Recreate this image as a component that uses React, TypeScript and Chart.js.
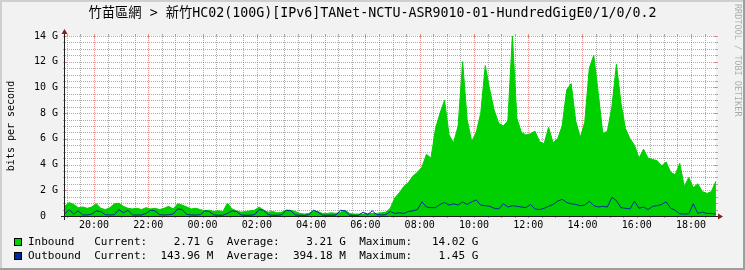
import React, { useEffect, useRef } from 'react';
import { Chart, registerables } from 'chart.js';

Chart.register(...registerables);

const W = 745;
const H = 270;
const MONO = '"DejaVu Sans Mono", "Noto Sans CJK TC", monospace';

const TITLE = '竹苗區網 > 新竹HC02(100G)[IPv6]TANet-NCTU-ASR9010-01-HundredGigE0/1/0/0.2';
const Y_AXIS_TITLE = 'bits per second';
const WATERMARK = 'RRDTOOL / TOBI OETIKER';

// time axis in hours (20 = 20:00, 24 = 00:00 next day, 42 = 18:00)
const START_HOUR = 18 + 55 / 60;
const STEP_HOURS = 10 / 60;
const X_MIN = 18.93;
const X_MAX = 42.92;
const Y_MAX = 14;
const X_LABEL_HOURS = [20, 22, 24, 26, 28, 30, 32, 34, 36, 38, 40, 42];
const Y_LABEL_VALUES = [0, 2, 4, 6, 8, 10, 12, 14];

// Gbit/s, one sample every 10 minutes from 18:55
const inboundGbps = [
  0.75, 1.05, 0.9, 0.65, 0.7, 0.6, 0.7, 0.95, 0.6, 0.5,
  0.65, 0.95, 1.0, 0.75, 0.6, 0.55, 0.6, 0.5, 0.65, 0.55,
  0.6, 0.5, 0.6, 0.75, 0.55, 0.95, 0.85, 0.7, 0.55, 0.6,
  0.5, 0.4, 0.45, 0.35, 0.4, 0.35, 1.0, 0.55, 0.4, 0.3,
  0.35, 0.4, 0.45, 0.7, 0.45, 0.3, 0.35, 0.25, 0.3, 0.45,
  0.45, 0.35, 0.2, 0.15, 0.2, 0.4, 0.35, 0.2, 0.2, 0.25,
  0.2, 0.3, 0.45, 0.2, 0.15, 0.15, 0.15, 0.2, 0.2, 0.2,
  0.25, 0.3, 0.6, 1.4, 1.8, 2.3, 2.6, 3.1, 3.4, 3.8,
  4.8, 4.5, 6.8, 8.0, 9.0, 6.3, 5.7, 7.0, 12.0, 7.5,
  5.8, 6.5, 8.0, 11.7, 9.8, 8.2, 7.2, 7.0, 7.4, 14.02,
  7.6, 6.5, 6.3, 6.4, 6.6, 5.8, 5.6, 6.9, 5.7, 6.0,
  7.0, 9.8, 10.3, 7.4, 6.1, 7.3, 11.5, 12.5, 9.5, 6.4,
  6.6, 8.5, 11.8, 8.8, 6.8, 6.0, 5.5, 4.5, 5.2, 4.5,
  4.4, 4.3, 3.9, 4.2, 3.4, 3.2, 4.1, 2.3, 3.0, 2.2,
  2.5, 1.9, 1.75, 1.9, 2.71,
];

const outboundGbps = [
  0.15, 0.5, 0.15, 0.4, 0.08, 0.08, 0.15, 0.4, 0.35, 0.1,
  0.08, 0.1, 0.5, 0.25, 0.45, 0.08, 0.08, 0.08, 0.2, 0.45,
  0.4, 0.1, 0.08, 0.1, 0.15, 0.55, 0.5, 0.12, 0.08, 0.08,
  0.1, 0.4, 0.35, 0.08, 0.06, 0.06, 0.2, 0.4, 0.35, 0.08,
  0.06, 0.06, 0.1, 0.5, 0.45, 0.1, 0.06, 0.06, 0.1, 0.45,
  0.4, 0.08, 0.06, 0.05, 0.1, 0.45, 0.3, 0.06, 0.06, 0.06,
  0.08, 0.45, 0.4, 0.06, 0.05, 0.06, 0.3, 0.1, 0.4, 0.1,
  0.08, 0.1, 0.35, 0.2, 0.25, 0.2, 0.35, 0.4, 0.5, 1.1,
  0.7, 0.65, 0.65, 0.9, 1.05, 0.85, 0.95, 0.85, 1.1, 0.9,
  1.1, 1.25, 0.85, 0.8, 0.75, 0.6, 0.55, 0.95, 0.7, 0.8,
  0.75, 0.7, 0.65, 0.9, 0.55, 0.5, 0.6, 0.75, 0.9, 1.15,
  1.3, 1.05, 0.95, 0.9, 0.8, 0.85, 1.15, 0.8, 0.7, 0.75,
  0.7, 1.45, 1.2, 0.65, 0.6, 0.55, 1.15, 0.6, 0.7, 0.5,
  0.75, 0.8, 0.9, 1.1, 0.6, 0.45, 0.17, 0.15, 0.17, 0.95,
  0.2, 0.3, 0.2, 0.2, 0.144,
];

const seriesNames = ['Inbound', 'Outbound'];
const seriesColors = ['#00CF00', '#002A97'];
const currentText = ['2.71 G', '143.96 M'];
const averageText = ['3.21 G', '394.18 M'];
const maximumText = ['14.02 G', '1.45 G'];

const COL_BG = '#F2F2F2';
const COL_SHADE_A = '#CFCFCF';
const COL_SHADE_B = '#9E9E9E';
const COL_GRID = 'rgba(143,143,143,0.75)';
const COL_MGRID = 'rgba(222,79,79,0.6)';
const COL_AXIS = '#1F1F1F';
const COL_ARROW = '#801F1F';

const toPoints = (arr: number[]) => arr.map((v, i) => ({ x: START_HOUR + i * STEP_HOURS, y: v }));

const hourLabel = (h: number) => `${String(((h % 24) + 24) % 24).padStart(2, '0')}:00`;

const rrdPlugin = {
  id: 'rrdLook',
  beforeDraw(chart: any) {
    const { ctx, chartArea: a } = chart;
    const xs = chart.scales.x;
    const ys = chart.scales.y;
    ctx.save();
    ctx.fillStyle = COL_BG;
    ctx.fillRect(0, 0, W, H);
    ctx.fillStyle = COL_SHADE_A;
    ctx.fillRect(0, 0, W, 2);
    ctx.fillRect(0, 0, 2, H);
    ctx.fillStyle = COL_SHADE_B;
    ctx.fillRect(0, H - 2, W, 2);
    ctx.fillRect(W - 2, 0, 2, H);
    ctx.fillStyle = '#FFFFFF';
    ctx.fillRect(a.left, a.top, a.right - a.left, a.bottom - a.top);

    ctx.lineWidth = 1;
    // horizontal grid every 0.5 G, major every 2 G
    for (let k = 1; k <= Y_MAX * 2; k++) {
      const v = k / 2;
      const major = k % 4 === 0;
      const y = Math.round(ys.getPixelForValue(v)) + 0.5;
      ctx.strokeStyle = major ? COL_MGRID : COL_GRID;
      ctx.setLineDash([]);
      ctx.beginPath();
      if (major) {
        ctx.moveTo(a.left - 2, y); ctx.lineTo(a.left + 2, y);
        ctx.moveTo(a.right - 2, y); ctx.lineTo(a.right + 2, y);
      } else {
        ctx.moveTo(a.left - 2, y); ctx.lineTo(a.left, y);
        ctx.moveTo(a.right, y); ctx.lineTo(a.right + 2, y);
      }
      ctx.stroke();
      ctx.setLineDash([1, 1]);
      ctx.beginPath();
      ctx.moveTo(a.left, y);
      ctx.lineTo(a.right, y);
      ctx.stroke();
    }
    // vertical grid every 30 min, major every 2 h
    for (let h = Math.ceil(X_MIN * 2) / 2; h <= X_MAX; h += 0.5) {
      const major = Number.isInteger(h) && h % 2 === 0;
      const x = Math.round(xs.getPixelForValue(h)) + 0.5;
      if (x < a.left || x > a.right) continue;
      ctx.strokeStyle = major ? COL_MGRID : COL_GRID;
      ctx.setLineDash([]);
      ctx.beginPath();
      if (major) {
        ctx.moveTo(x, a.top - 2); ctx.lineTo(x, a.top + 2);
        ctx.moveTo(x, a.bottom - 2); ctx.lineTo(x, a.bottom + 2);
      } else {
        ctx.moveTo(x, a.top - 2); ctx.lineTo(x, a.top);
        ctx.moveTo(x, a.bottom); ctx.lineTo(x, a.bottom + 2);
      }
      ctx.stroke();
      ctx.setLineDash([1, 1]);
      ctx.beginPath();
      ctx.moveTo(x, a.top);
      ctx.lineTo(x, a.bottom);
      ctx.stroke();
    }
    ctx.restore();
  },
  afterDatasetsDraw(chart: any) {
    const { ctx, chartArea: a } = chart;
    ctx.save();
    ctx.setLineDash([]);
    ctx.lineWidth = 1;
    ctx.strokeStyle = COL_AXIS;
    const y0 = a.bottom + 0.5;
    const x0 = a.left - 0.5;
    ctx.beginPath();
    ctx.moveTo(a.left - 4, y0);
    ctx.lineTo(a.right + 2, y0);
    ctx.moveTo(x0, a.bottom + 4);
    ctx.lineTo(x0, a.top - 2);
    ctx.stroke();
    ctx.fillStyle = COL_ARROW;
    ctx.beginPath();
    ctx.moveTo(x0, a.top - 7);
    ctx.lineTo(x0 - 3, a.top - 2);
    ctx.lineTo(x0 + 3, a.top - 2);
    ctx.closePath();
    ctx.fill();
    ctx.beginPath();
    ctx.moveTo(a.right + 7, y0);
    ctx.lineTo(a.right + 2, y0 - 3);
    ctx.lineTo(a.right + 2, y0 + 3);
    ctx.closePath();
    ctx.fill();
    ctx.restore();
  },
  afterDraw(chart: any) {
    const { ctx } = chart;
    ctx.save();
    // title
    ctx.fillStyle = '#000';
    ctx.font = `13.3px ${MONO}`;
    ctx.textAlign = 'center';
    ctx.textBaseline = 'middle';
    ctx.fillText(TITLE, W / 2, 13.5);
    // legend
    ctx.font = `11px ${MONO}`;
    ctx.textAlign = 'left';
    seriesNames.forEach((name, i) => {
      const cy = 242.5 + i * 14;
      ctx.fillStyle = seriesColors[i];
      ctx.fillRect(14, cy - 4.5, 8, 8);
      ctx.strokeStyle = '#000';
      ctx.lineWidth = 1;
      ctx.strokeRect(14.5, cy - 4, 7, 7);
      ctx.fillStyle = '#000';
      const line =
        name.padEnd(10) +
        'Current:' + currentText[i].padStart(10) + '  ' +
        'Average:' + averageText[i].padStart(10) + '  ' +
        'Maximum:' + maximumText[i].padStart(10);
      ctx.fillText(line, 28, cy);
    });
    // watermark
    ctx.translate(737, 4);
    ctx.rotate(Math.PI / 2);
    ctx.font = `8.5px ${MONO}`;
    ctx.fillStyle = 'rgba(0,0,0,0.3)';
    ctx.textAlign = 'left';
    ctx.textBaseline = 'middle';
    ctx.fillText(WATERMARK, 0, 0);
    ctx.restore();
  },
};

export default function App() {
  const ref = useRef<HTMLCanvasElement>(null);
  useEffect(() => {
    const canvas = ref.current;
    if (!canvas) return;
    const tickFont = { family: MONO, size: 10 };
    const chart = new Chart(canvas, {
      type: 'line',
      data: {
        datasets: [
          {
            label: seriesNames[0],
            data: toPoints(inboundGbps),
            fill: 'origin',
            backgroundColor: seriesColors[0],
            borderColor: seriesColors[0],
            borderWidth: 1,
            pointRadius: 0,
            tension: 0,
            order: 1,
          },
          {
            label: seriesNames[1],
            data: toPoints(outboundGbps),
            fill: false,
            borderColor: seriesColors[1],
            borderWidth: 1,
            pointRadius: 0,
            tension: 0,
            order: 0,
          },
        ],
      },
      options: {
        animation: false,
        responsive: false,
        devicePixelRatio: 1,
        events: [],
        layout: { padding: { top: 36, right: 29, left: 0, bottom: 0 } },
        plugins: {
          legend: { display: false },
          tooltip: { enabled: false },
          title: { display: false },
        },
        scales: {
          x: {
            type: 'linear',
            min: X_MIN,
            max: X_MAX,
            afterBuildTicks: (s: any) => {
              s.ticks = X_LABEL_HOURS.map((v) => ({ value: v }));
            },
            afterFit: (s: any) => {
              s.height = H - 216;
            },
            grid: { display: false, drawTicks: false },
            border: { display: false },
            ticks: {
              autoSkip: false,
              maxRotation: 0,
              padding: 3,
              color: '#000',
              font: tickFont,
              callback: (v: any) => hourLabel(Number(v)),
            },
          },
          y: {
            type: 'linear',
            min: 0,
            max: Y_MAX,
            afterBuildTicks: (s: any) => {
              s.ticks = Y_LABEL_VALUES.map((v) => ({ value: v }));
            },
            afterFit: (s: any) => {
              s.width = 65;
            },
            grid: { display: false, drawTicks: false },
            border: { display: false },
            ticks: {
              padding: 7,
              color: '#000',
              font: tickFont,
              callback: (v: any) => (Number(v) === 0 ? '0  ' : `${v} G`),
            },
            title: {
              display: true,
              text: Y_AXIS_TITLE,
              color: '#000',
              font: tickFont,
              padding: { top: 5, bottom: 0 },
            },
          },
        },
      },
      plugins: [rrdPlugin],
    } as any);
    return () => chart.destroy();
  }, []);
  return (
    <div style={{ position: 'absolute', left: 0, top: 0, width: W, height: H }}>
      <canvas ref={ref} width={W} height={H} style={{ display: 'block', width: W, height: H }} />
    </div>
  );
}
